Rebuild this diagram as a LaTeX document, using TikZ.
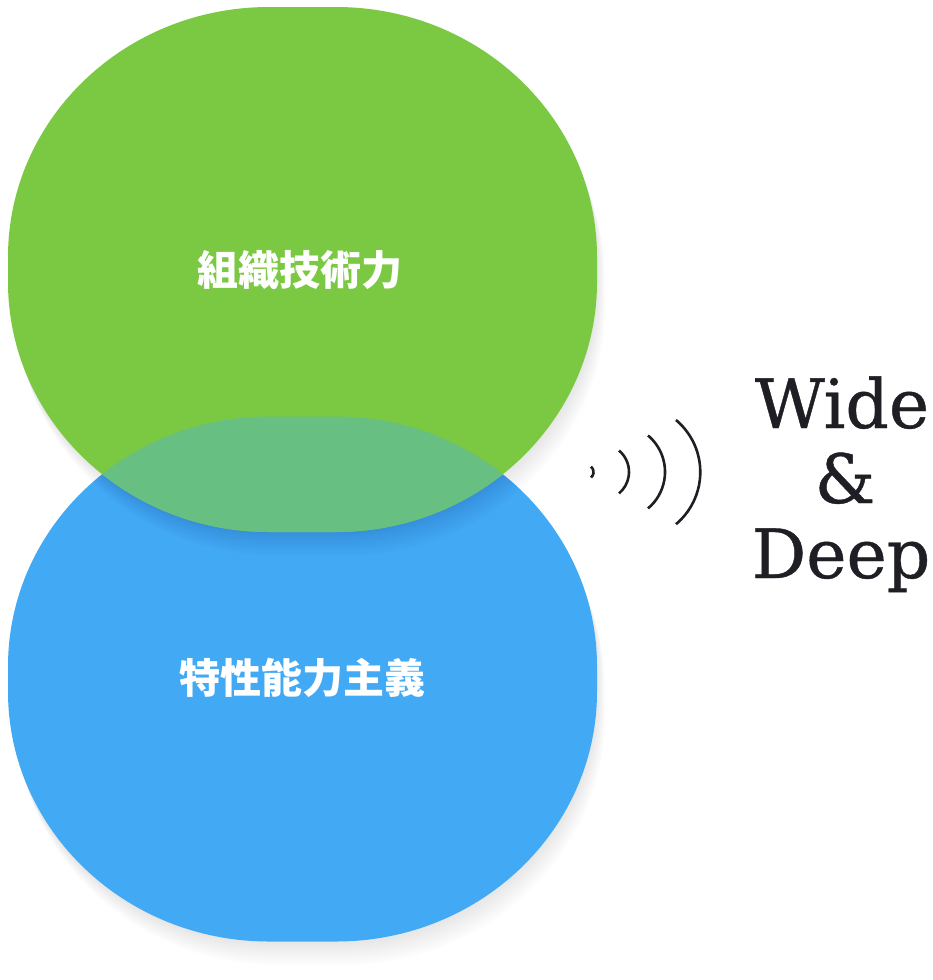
\documentclass[tikz,border=0pt]{standalone}
\usepackage{fontspec}
\newfontfamily\jpfont{Noto Sans CJK JP}
\newfontfamily\slabfont[FakeBold=0.6]{DejaVu Serif}
\definecolor{leafgreen}{HTML}{7BC943}
\definecolor{skyblue}{HTML}{42A9F5}
\definecolor{mixgreen}{HTML}{67BF82}
\definecolor{inkgray}{HTML}{1E1E24}
\newcommand\blob[1]{(269,#1-262.5) -- (336,#1-262.5)
  arc[start angle=-90,end angle=0,x radius=261,y radius=250] -- ++(0,25)
  arc[start angle=0,end angle=90,x radius=261,y radius=250] -- ++(-67,0)
  arc[start angle=90,end angle=180,x radius=261,y radius=250] -- ++(0,-25)
  arc[start angle=180,end angle=270,x radius=261,y radius=250] -- cycle}

\begin{document}
\begin{tikzpicture}[x=1pt,y=-1pt,
    jptext/.style={text=white,font=\jpfont\bfseries\fontsize{41}{41}\selectfont},
    slab/.style={text=inkgray,anchor=base,inner sep=0pt,font=\slabfont\fontsize{68}{68}\selectfont},
    wave/.style={draw=inkgray,line width=2.6pt}]
      \useasboundingbox (0,0) rectangle (932,980);
      \foreach \k in {1,...,12}
        \fill[black,opacity=0.007,shift={(0.7*\k,2*\k)}] \blob{679};
      \fill[skyblue] \blob{679};
      \foreach \k in {1,...,12}
        \fill[black,opacity=0.007,shift={(0.7*\k,2*\k)}] \blob{269.5};
      \fill[leafgreen] \blob{269.5};
      \begin{scope}
        \clip \blob{269.5};
        \fill[mixgreen] \blob{679};
      \end{scope}
      \node[jptext] (org) at (300,270) {組織技術力};
      \node[jptext] (spec) at (302,678) {特性能力主義};
      \draw[wave] (591,466.5) arc[start angle=-50,end angle=50,radius=7.2];
      \draw[wave] (619,450.5) arc[start angle=-50,end angle=50,radius=28];
      \draw[wave] (648,435.5) arc[start angle=-50,end angle=50,radius=47.6];
      \draw[wave] (676,420) arc[start angle=-50,end angle=50,radius=68];
      \node[slab] (wide) at (842,428) {Wide};
      \node[slab] (amp) at (845,503) {\&};
      \node[slab] (deep) at (841,578) {Deep};
    \end{tikzpicture}
\end{document}
